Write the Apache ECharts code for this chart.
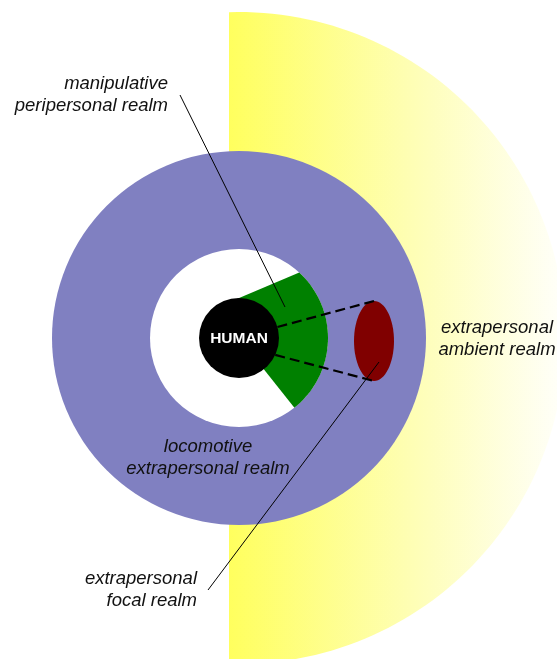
<!DOCTYPE html>
<html>
<head>
<meta charset="utf-8">
<script src="https://cdn.jsdelivr.net/npm/echarts@6/dist/echarts.min.js"></script>
<style>
  html, body { margin: 0; padding: 0; background: #fff; }
  #main { width: 557px; height: 659px; }
</style>
</head>
<body>
<div id="main"></div>
<script>
// realms around the observer, radius in diagram units (1 unit = 1 px)
var realmNames = ['extrapersonal ambient realm', 'locomotive extrapersonal realm', 'peripersonal boundary', 'HUMAN'];
var realmRadii = [326, 187, 89, 40];
var ambientCut = -10;              // ambient realm starts just left of the observer

// manipulative wedge: apex and edge angles (deg)
var wedgeApex = [-94, 0];
var wedgeAngles = [23, -25];

// focal realm ellipse: centre x, centre y, rx, ry
var focal = [135, -3, 20, 40];
var focalRayAngles = [16, -25];    // where the dashed rays leave the head

// label texts and leader lines
var labelTexts = [
    'manipulative\nperipersonal realm',
    'locomotive\nextrapersonal realm',
    'extrapersonal\nambient realm',
    'extrapersonal\nfocal realm'
];
var labelPoints = [[-71, 243], [-31, -120], [258, -1], [-42, -252]];
var labelAlign = ['right', 'center', 'center', 'right'];
var leaderLines = [
    [[-59, 243], [46, 31]],
    [[-31, -252], [140, -24]]
];

var myChart = echarts.init(document.getElementById('main'));

function rayCircle(apex, deg, r) {
    var a = deg * Math.PI / 180;
    var c = Math.cos(a), s = Math.sin(a);
    var b = apex[0] * c + apex[1] * s;
    var k = apex[0] * apex[0] + apex[1] * apex[1] - r * r;
    var t = -b + Math.sqrt(b * b - k);
    return [apex[0] + t * c, apex[1] + t * s];
}

function renderDiagram(params, api) {
    var px = function (p) { return api.coord(p); };
    var len = function (v) { return api.size([v, 0])[0]; };
    var kids = [];

    // ambient realm (yellow, cut on the left)
    var R = realmRadii[0];
    var a0 = Math.acos(ambientCut / R);
    var amb = [];
    for (var i = 0; i <= 120; i++) {
        var ang = a0 - (2 * a0) * i / 120;
        amb.push(px([R * Math.cos(ang), R * Math.sin(ang)]));
    }
    var leftX = px([ambientCut, 0])[0];
    kids.push({
        type: 'polygon',
        shape: { points: amb },
        style: {
            fill: new echarts.graphic.LinearGradient(leftX, 0, leftX + 345, 0, [
                { offset: 0, color: '#ffff5e' },
                { offset: 0.55, color: '#fefeb8' },
                { offset: 1, color: '#ffffff' }
            ], true)
        }
    });

    var o = px([0, 0]);
    // locomotive realm
    kids.push({ type: 'circle', shape: { cx: o[0], cy: o[1], r: len(realmRadii[1]) }, style: { fill: '#8080c1' } });
    // peripersonal disc
    kids.push({ type: 'circle', shape: { cx: o[0], cy: o[1], r: len(realmRadii[2]) }, style: { fill: '#ffffff' } });

    // manipulative wedge, clipped to the peripersonal disc
    var up = rayCircle(wedgeApex, wedgeAngles[0], realmRadii[2]);
    var lo = rayCircle(wedgeApex, wedgeAngles[1], realmRadii[2]);
    var upIn = rayCircle(wedgeApex, wedgeAngles[0], realmRadii[3] - 1);
    var loIn = rayCircle(wedgeApex, wedgeAngles[1], realmRadii[3] - 1);
    var g = [px([0, 0]), px(upIn), px(up)];
    var s0 = Math.atan2(up[1], up[0]), s1 = Math.atan2(lo[1], lo[0]);
    for (var j = 1; j < 40; j++) {
        var aa = s0 + (s1 - s0) * j / 40;
        g.push(px([realmRadii[2] * Math.cos(aa), realmRadii[2] * Math.sin(aa)]));
    }
    g.push(px(lo), px(loIn));
    kids.push({ type: 'polygon', shape: { points: g }, style: { fill: '#008000' } });

    // focal realm
    var fc = px([focal[0], focal[1]]);
    kids.push({
        type: 'ellipse',
        shape: { cx: fc[0], cy: fc[1], rx: len(focal[2]), ry: len(focal[3]) },
        style: { fill: '#800000' }
    });

    // dashed rays from head to focal realm
    var ends = [[focal[0], focal[1] + focal[3]], [focal[0], focal[1] - focal[3]]];
    focalRayAngles.forEach(function (deg, n) {
        var a = deg * Math.PI / 180;
        var st = px([realmRadii[3] * Math.cos(a), realmRadii[3] * Math.sin(a)]);
        var en = px(ends[n]);
        kids.push({
            type: 'line',
            shape: { x1: st[0], y1: st[1], x2: en[0], y2: en[1] },
            style: { stroke: '#000', lineWidth: 2.2, lineDash: [10, 5] }
        });
    });

    // the observer
    kids.push({ type: 'circle', shape: { cx: o[0], cy: o[1], r: len(realmRadii[3]) }, style: { fill: '#000' } });
    kids.push({
        type: 'text',
        style: {
            x: o[0], y: o[1] + 1, text: realmNames[3], fill: '#fff',
            font: 'bold 15.5px "Liberation Sans", Arial, sans-serif',
            align: 'center', verticalAlign: 'middle'
        }
    });

    // leader lines
    leaderLines.forEach(function (ln) {
        var p1 = px(ln[0]), p2 = px(ln[1]);
        kids.push({
            type: 'line',
            shape: { x1: p1[0], y1: p1[1], x2: p2[0], y2: p2[1] },
            style: { stroke: '#000', lineWidth: 1 }
        });
    });

    // labels
    labelTexts.forEach(function (t, n) {
        var p = px(labelPoints[n]);
        kids.push({
            type: 'text',
            style: {
                x: p[0], y: p[1], text: t, fill: '#111',
                font: 'italic 18.5px "Liberation Sans", Arial, sans-serif',
                lineHeight: 22, align: labelAlign[n], verticalAlign: 'middle'
            }
        });
    });

    return { type: 'group', children: kids };
}

var option = {
    animation: false,
    grid: { left: 0, right: 0, top: 0, bottom: 0 },
    xAxis: { type: 'value', min: -239, max: 318, show: false },
    yAxis: { type: 'value', min: -321, max: 338, show: false },
    series: [{
        type: 'custom',
        coordinateSystem: 'cartesian2d',
        renderItem: renderDiagram,
        data: [[0, 0]],
        silent: true
    }]
};
myChart.setOption(option);
</script>
</body>
</html>
